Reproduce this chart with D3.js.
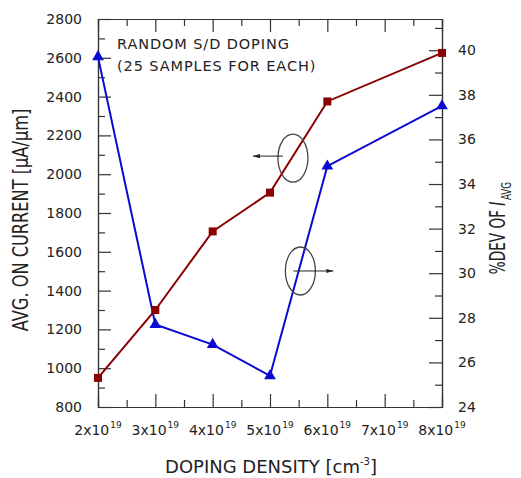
<html>
<head>
<script src="https://cdn.jsdelivr.net/npm/d3@7"></script>
<style>
body { margin: 0; background: #fff; }
text { font-family: "DejaVu Sans", Verdana, sans-serif; fill: #222; }
.axis path, .axis line { stroke: #333; stroke-width: 1.2px; }
</style>
</head>
<body>
<div id="chart"></div>
<script>
// doping density (x 1e19 cm^-3)
var density   = [2, 3, 4, 5, 6, 8];
// avg on current [uA/um], left axis
var onCurrent = [950, 1300, 1705, 1905, 2375, 2625];
// %dev of I_avg, right axis
var devPct    = [39.7, 27.7, 26.8, 25.4, 34.8, 37.5];
var xTicks    = [2, 3, 4, 5, 6, 7, 8];
var leftTicks = [800, 1000, 1200, 1400, 1600, 1800, 2000, 2200, 2400, 2600, 2800];
var rightTicks = [24, 26, 28, 30, 32, 34, 36, 38, 40];

var W = 521, H = 478;
var m = {left: 98, right: 79, top: 19, bottom: 71};
var w = W - m.left - m.right, h = H - m.top - m.bottom;
var red = '#8b0000', blue = '#0a0ad2';

var svg = d3.select('#chart').append('svg')
    .attr('width', W).attr('height', H);
var g = svg.append('g').attr('transform', 'translate(' + m.left + ',' + m.top + ')');

var x  = d3.scaleLinear().domain([2, 8]).range([0, w]);
var yL = d3.scaleLinear().domain([800, 2800]).range([h, 0]);
var yR = d3.scaleLinear().domain([24, 41.4]).range([h, 0]);

// minor ticks first, then major
function minor(axis, scale, vals) {
    return axis(scale).tickValues(vals).tickSize(7).tickFormat('');
}
var xMinor = d3.range(2.5, 8, 1);
var lMinor = d3.range(900, 2800, 200);
var rMinor = d3.range(25, 42, 2);

g.append('g').attr('class', 'axis').attr('transform', 'translate(0,' + h + ')')
    .call(minor(d3.axisTop, x, xMinor));
g.append('g').attr('class', 'axis')
    .call(minor(d3.axisBottom, x, xMinor));
g.append('g').attr('class', 'axis')
    .call(minor(d3.axisRight, yL, lMinor));
g.append('g').attr('class', 'axis').attr('transform', 'translate(' + w + ',0)')
    .call(minor(d3.axisLeft, yR, rMinor));

g.append('g').attr('class', 'axis').attr('transform', 'translate(0,' + h + ')')
    .call(d3.axisTop(x).tickValues(xTicks).tickSize(13).tickSizeOuter(0).tickFormat(''));
g.append('g').attr('class', 'axis')
    .call(d3.axisBottom(x).tickValues(xTicks).tickSize(13).tickSizeOuter(0).tickFormat(''));
g.append('g').attr('class', 'axis')
    .call(d3.axisRight(yL).tickValues(leftTicks).tickSize(13).tickSizeOuter(0).tickFormat(''));
g.append('g').attr('class', 'axis').attr('transform', 'translate(' + w + ',0)')
    .call(d3.axisLeft(yR).tickValues(rightTicks).tickSize(13).tickSizeOuter(0).tickFormat(''));

// tick labels
g.selectAll('.lt').data(leftTicks).enter().append('text')
    .attr('x', -16).attr('y', function(d) { return yL(d) + 5; })
    .attr('text-anchor', 'end').style('font-size', '14px')
    .text(function(d) { return d; });
g.selectAll('.rt').data(rightTicks).enter().append('text')
    .attr('x', w + 16).attr('y', function(d) { return yR(d) + 5; })
    .style('font-size', '14px')
    .text(function(d) { return d; });
var xt = g.selectAll('.xt').data(xTicks).enter().append('text')
    .attr('x', function(d) { return x(d); }).attr('y', h + 28)
    .attr('text-anchor', 'middle').style('font-size', '14px');
xt.append('tspan').text(function(d) { return d + 'x10'; });
xt.append('tspan').attr('dy', -7).attr('dx', 1).style('font-size', '9px').text('19');

// axis titles (the original's vertical titles are narrow and tall)
svg.append('text')
    .attr('transform', 'translate(28,220) rotate(-90) scale(0.9,1.15)')
    .attr('text-anchor', 'middle').style('font-size', '18px')
    .text('AVG. ON CURRENT [\u03bcA/\u03bcm]');
var rl = svg.append('text')
    .attr('transform', 'translate(505,228) rotate(-90) scale(0.8,1.2)')
    .attr('text-anchor', 'middle').style('font-size', '17px');
rl.append('tspan').text('%DEV OF ');
rl.append('tspan').style('font-style', 'italic').text('I');
rl.append('tspan').attr('dy', 5).attr('dx', 2).style('font-size', '11px').text('AVG');
var xl = svg.append('text')
    .attr('x', 271).attr('y', 473)
    .attr('text-anchor', 'middle').style('font-size', '18px');
xl.append('tspan').text('DOPING DENSITY [cm');
xl.append('tspan').attr('dy', -8).style('font-size', '10px').text('-3');
xl.append('tspan').attr('dy', 8).text(']');

// note
g.append('text').attr('x', 19).attr('y', 30)
    .style('font-size', '14.5px').style('letter-spacing', '0.9px')
    .text('RANDOM S/D DOPING');
g.append('text').attr('x', 19).attr('y', 52)
    .style('font-size', '14.5px').style('letter-spacing', '0.9px')
    .text('(25 SAMPLES FOR EACH)');

// series
var redData = density.map(function(d, i) { return {x: d, y: onCurrent[i]}; });
var blueData = density.map(function(d, i) { return {x: d, y: devPct[i]}; });

g.append('path').datum(redData)
    .attr('fill', 'none').attr('stroke', red).attr('stroke-width', 2)
    .attr('d', d3.line().x(function(d) { return x(d.x); }).y(function(d) { return yL(d.y); }));
g.append('path').datum(blueData)
    .attr('fill', 'none').attr('stroke', blue).attr('stroke-width', 2)
    .attr('d', d3.line().x(function(d) { return x(d.x); }).y(function(d) { return yR(d.y); }));

g.selectAll('.sq').data(redData).enter().append('path')
    .attr('d', d3.symbol().type(d3.symbolSquare).size(64))
    .attr('transform', function(d) { return 'translate(' + x(d.x) + ',' + yL(d.y) + ')'; })
    .attr('fill', red);
g.selectAll('.tri').data(blueData).enter().append('path')
    .attr('d', d3.symbol().type(d3.symbolTriangle).size(60))
    .attr('transform', function(d) { return 'translate(' + x(d.x) + ',' + yR(d.y) + ')'; })
    .attr('fill', blue);

// ellipse + arrow markers showing which axis each curve uses
svg.append('defs').append('marker')
    .attr('id', 'arr').attr('viewBox', '0 0 10 10').attr('refX', 10).attr('refY', 5)
    .attr('markerWidth', 7).attr('markerHeight', 7).attr('orient', 'auto')
    .append('path').attr('d', 'M0,2 L10,5 L0,8 Z').attr('fill', '#222');

var e1 = {x: 5.4, y: 2083}, e2 = {x: 5.53, y: 30.1};
g.append('ellipse').attr('cx', x(e1.x)).attr('cy', yL(e1.y)).attr('rx', 15).attr('ry', 24)
    .attr('fill', 'none').attr('stroke', '#444').attr('stroke-width', 1.3);
g.append('line').attr('x1', x(e1.x) - 10).attr('x2', x(e1.x) - 40)
    .attr('y1', yL(e1.y) - 2).attr('y2', yL(e1.y) - 2)
    .attr('stroke', '#222').attr('stroke-width', 1).attr('marker-end', 'url(#arr)');
g.append('ellipse').attr('cx', x(e2.x)).attr('cy', yR(e2.y)).attr('rx', 15).attr('ry', 24)
    .attr('fill', 'none').attr('stroke', '#444').attr('stroke-width', 1.3);
g.append('line').attr('x1', x(e2.x) - 7).attr('x2', x(e2.x) + 33)
    .attr('y1', yR(e2.y)).attr('y2', yR(e2.y))
    .attr('stroke', '#222').attr('stroke-width', 1).attr('marker-end', 'url(#arr)');
</script>
</body>
</html>
